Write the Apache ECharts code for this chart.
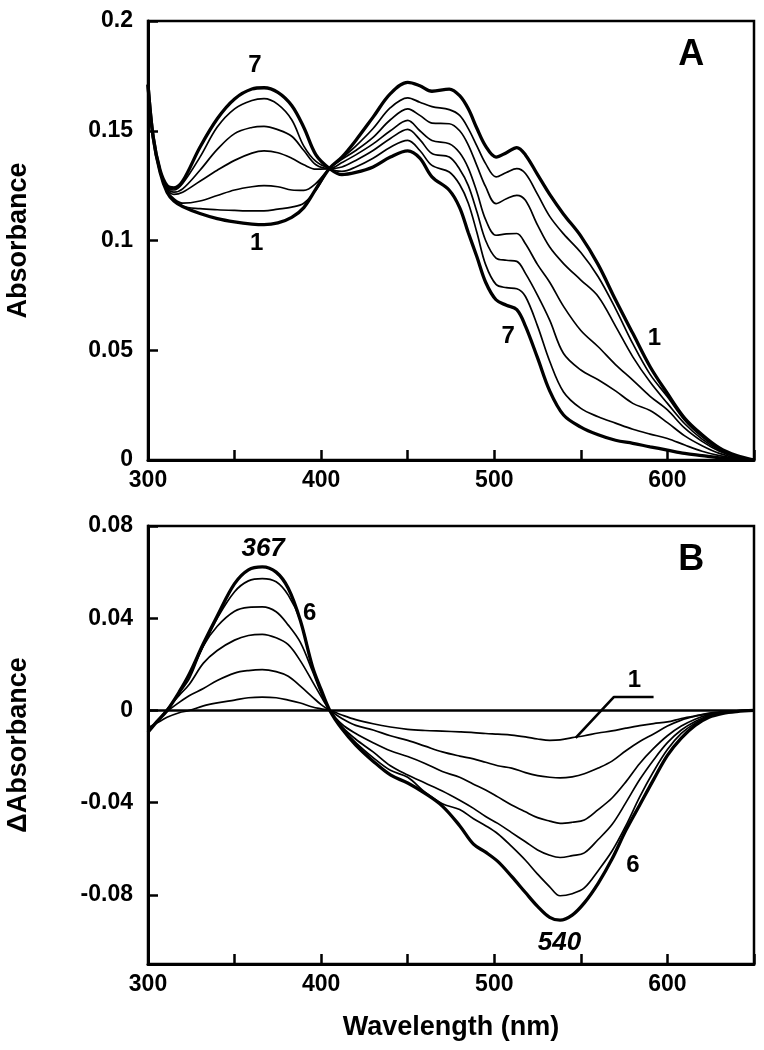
<!DOCTYPE html>
<html><head><meta charset="utf-8">
<script src="https://cdn.jsdelivr.net/npm/echarts@6.0.0/dist/echarts.min.js"></script>
<style>html,body{margin:0;padding:0;background:#fff}#c{width:764px;height:1050px}</style>
</head><body><div id="c"></div>
<script>
const FONT = '"Liberation Sans", Arial, Helvetica, sans-serif';

// ---- Panel A: absorbance spectra 1..7 ----
const wavelengthsA = [300,303,307,311,315,320,330,340,350,360,367,375,383,390,397,405,412,420,430,440,450,457,464,474,480,485,490,495,501,507,513,518,525,532,540,550,560,570,580,590,600,610,620,630,640,650];
const absA1 = [0.171,0.147,0.131,0.122,0.118,0.1155,0.1123,0.110,0.1085,0.1075,0.1072,0.108,0.1105,0.115,0.1235,0.133,0.138,0.1456,0.1562,0.1669,0.172,0.1705,0.168,0.169,0.166,0.160,0.151,0.143,0.138,0.140,0.1423,0.139,0.130,0.121,0.112,0.102,0.089,0.073,0.0577,0.0425,0.0303,0.019,0.0115,0.0055,0.002,0];
const absA2 = [0.171,0.147,0.131,0.122,0.118,0.1155,0.1145,0.114,0.1137,0.1135,0.1135,0.1143,0.1152,0.117,0.123,0.133,0.1375,0.143,0.151,0.1605,0.165,0.163,0.161,0.1596,0.157,0.151,0.143,0.135,0.129,0.131,0.1327,0.1305,0.121,0.111,0.103,0.0945,0.0835,0.069,0.053,0.039,0.0288,0.018,0.0105,0.005,0.0018,0];
const absA3 = [0.171,0.147,0.131,0.1225,0.119,0.117,0.118,0.1205,0.123,0.1245,0.125,0.1245,0.123,0.1228,0.126,0.133,0.137,0.141,0.147,0.155,0.160,0.157,0.1535,0.1532,0.150,0.1435,0.134,0.1245,0.1168,0.119,0.1206,0.1183,0.107,0.097,0.0895,0.082,0.0745,0.061,0.047,0.0355,0.0258,0.0165,0.0095,0.0045,0.0015,0];
const absA4 = [0.171,0.147,0.132,0.1235,0.121,0.122,0.127,0.132,0.1365,0.1398,0.1408,0.140,0.1375,0.1345,0.1325,0.1327,0.1355,0.139,0.144,0.150,0.1547,0.150,0.1456,0.1441,0.140,0.133,0.122,0.1095,0.1024,0.103,0.1032,0.0985,0.089,0.081,0.070,0.059,0.0516,0.0435,0.0364,0.029,0.0228,0.0145,0.0085,0.004,0.0013,0];
const absA5 = [0.171,0.147,0.132,0.124,0.122,0.1235,0.132,0.1415,0.1487,0.1515,0.152,0.1505,0.1475,0.141,0.1345,0.1327,0.1335,0.1365,0.141,0.1465,0.1506,0.146,0.1396,0.138,0.1325,0.125,0.113,0.100,0.092,0.091,0.0905,0.085,0.075,0.0637,0.0485,0.041,0.0366,0.0315,0.0258,0.0225,0.017,0.011,0.0065,0.003,0.001,0];
const absA6 = [0.171,0.147,0.132,0.1245,0.123,0.126,0.138,0.1517,0.160,0.1638,0.1646,0.162,0.155,0.143,0.136,0.1327,0.1315,0.1335,0.1375,0.1425,0.1456,0.141,0.1342,0.1312,0.1255,0.117,0.1035,0.089,0.080,0.0785,0.078,0.0745,0.061,0.045,0.031,0.0235,0.0197,0.0168,0.014,0.0118,0.0098,0.0068,0.004,0.002,0.0007,0];
const absA7 = [0.171,0.147,0.132,0.125,0.124,0.127,0.1425,0.1555,0.1645,0.169,0.1696,0.1675,0.1615,0.1515,0.139,0.1327,0.130,0.131,0.1335,0.138,0.1408,0.1375,0.129,0.1229,0.115,0.1035,0.0925,0.081,0.073,0.0705,0.0685,0.061,0.0465,0.0315,0.0205,0.015,0.0115,0.009,0.0076,0.006,0.0045,0.003,0.002,0.001,0.0004,0];

// ---- Panel B: difference spectra 1..6 ----
const wavelengthsB = [300,305,311,318,324,332,340,350,358,366,374,381,388,395,400,405,412,420,430,440,450,460,470,480,488,495,502,510,518,525,532,538,545,552,560,568,576,584,592,600,608,616,624,632,640,650];
const diffB1 = [-0.0075,-0.0055,-0.003,-0.001,0,0.002,0.0033,0.0045,0.0055,0.0058,0.0055,0.0045,0.0032,0.0015,0.0007,0,-0.002,-0.004,-0.0058,-0.0072,-0.0082,-0.0087,-0.009,-0.0093,-0.0096,-0.010,-0.0103,-0.0107,-0.0115,-0.0124,-0.013,-0.0128,-0.0118,-0.011,-0.0098,-0.0089,-0.0077,-0.0066,-0.0057,-0.005,-0.0035,-0.0024,-0.0015,-0.0008,-0.0003,0];
const diffB2 = [-0.0085,-0.005,-0.0005,0.0035,0.0065,0.0095,0.013,0.0162,0.0173,0.0177,0.0168,0.0148,0.0105,0.0058,0.0025,0,-0.0035,-0.0065,-0.0085,-0.011,-0.013,-0.0155,-0.018,-0.0198,-0.021,-0.0225,-0.024,-0.025,-0.027,-0.0283,-0.029,-0.0293,-0.0288,-0.0275,-0.025,-0.022,-0.0175,-0.0135,-0.0102,-0.0068,-0.0042,-0.0025,-0.0012,-0.0005,-0.0002,0];
const diffB3 = [-0.009,-0.005,0.0005,0.0065,0.0115,0.0205,0.026,0.0305,0.0325,0.033,0.0315,0.0285,0.0215,0.0125,0.006,0,-0.006,-0.010,-0.014,-0.0175,-0.020,-0.023,-0.0265,-0.029,-0.032,-0.0345,-0.0375,-0.041,-0.044,-0.0465,-0.048,-0.049,-0.0485,-0.0475,-0.043,-0.038,-0.031,-0.023,-0.0165,-0.011,-0.0068,-0.0038,-0.0018,-0.0007,-0.0002,0];
const diffB4 = [-0.0095,-0.005,0,0.0075,0.014,0.028,0.0365,0.043,0.0447,0.0449,0.0428,0.037,0.0295,0.017,0.0075,0,-0.007,-0.0125,-0.018,-0.024,-0.028,-0.0315,-0.035,-0.039,-0.0425,-0.046,-0.049,-0.053,-0.057,-0.0605,-0.0628,-0.0638,-0.063,-0.0618,-0.056,-0.0495,-0.040,-0.030,-0.0215,-0.014,-0.0085,-0.0048,-0.0022,-0.0009,-0.0003,0];
const diffB5 = [-0.0095,-0.005,0,0.008,0.0158,0.028,0.040,0.0515,0.0562,0.0572,0.0558,0.050,0.039,0.019,0.008,0,-0.0075,-0.014,-0.0205,-0.026,-0.029,-0.0355,-0.0405,-0.043,-0.047,-0.050,-0.0535,-0.059,-0.065,-0.071,-0.0765,-0.0804,-0.0795,-0.077,-0.0695,-0.061,-0.050,-0.0375,-0.0265,-0.017,-0.010,-0.0055,-0.0025,-0.001,-0.0004,0];
const diffB6 = [-0.0095,-0.005,0,0.008,0.016,0.029,0.041,0.055,0.061,0.0623,0.060,0.053,0.039,0.019,0.009,0,-0.008,-0.015,-0.022,-0.028,-0.0315,-0.036,-0.0415,-0.050,-0.058,-0.0615,-0.0655,-0.072,-0.079,-0.085,-0.0898,-0.091,-0.0888,-0.0835,-0.075,-0.0645,-0.052,-0.041,-0.030,-0.0195,-0.012,-0.0065,-0.003,-0.0013,-0.0005,0];

// leader line for label "1" in panel B
const leaderX = [547, 569, 592];
const leaderY = [-0.0119, 0.0058, 0.0058];

// tick labels
const xLabelValues = [300, 400, 500, 600];
const yTickValuesB = [-0.08, -0.04, 0, 0.04, 0.08];

// annotations [text, wavelength, value, size, italic]
const labelsA = [['7', 361.7, 0.1797, 24, false], ['1', 362.7, 0.0987, 24, false], ['A', 613.7, 0.1843, 36, false], ['7', 508, 0.0561, 24, false], ['1', 592.5, 0.0554, 24, false]];
const labelsB = [['367', 366.5, 0.0703, 26, true], ['6', 393.4, 0.042, 24, false], ['B', 613.7, 0.0652, 36, false], ['1', 581, 0.013, 24, false], ['6', 580, -0.0674, 24, false], ['540', 537.7, -0.1007, 26, true]];

const pairs = (xs, ys) => xs.map((x, i) => [x, ys[i]]);
const txt = {color: '#000', fontFamily: FONT, fontWeight: 'bold'};

function curve(xs, ys, thick, gi, extra) {
  return Object.assign({
    type: 'line', xAxisIndex: gi, yAxisIndex: gi, data: pairs(xs, ys),
    showSymbol: false, symbol: 'none', smooth: 0.35, silent: true, animation: false,
    lineStyle: {color: '#000', width: thick ? 3.3 : 1.7, opacity: 1}, z: thick ? 4 : 3
  }, extra || {});
}
function labelSeries(list, gi) {
  return {
    type: 'scatter', xAxisIndex: gi, yAxisIndex: gi, symbolSize: 1, silent: true, animation: false, z: 10,
    itemStyle: {color: 'rgba(0,0,0,0)', opacity: 1},
    data: list.map(l => ({
      value: [l[1], l[2]],
      label: {show: true, position: 'inside', formatter: l[0], fontSize: l[3], fontStyle: l[4] ? 'italic' : 'normal',
        color: '#000', opacity: 1, textBorderWidth: 0, fontFamily: FONT, fontWeight: 'bold', align: 'center', verticalAlign: 'middle'}
    }))
  };
}

const gridCommon = {show: true, borderColor: '#000', borderWidth: 2.5, left: 148, width: 606, containLabel: false, outerBoundsMode: 'none'};

function xAxis(gi) {
  return {
    type: 'value', gridIndex: gi, min: 300, max: 650, interval: 50,
    axisLine: {show: true, onZero: false, lineStyle: {color: '#000', width: 3}},
    axisTick: {show: true, inside: true, length: 10, lineStyle: {color: '#000', width: 2.5}},
    axisLabel: Object.assign({fontSize: 23, margin: 9, formatter: v => xLabelValues.includes(v) ? String(v) : ''}, txt),
    splitLine: {show: false},
    name: gi === 1 ? 'Wavelength (nm)' : '', nameLocation: 'middle', nameGap: 50,
    nameTextStyle: Object.assign({fontSize: 27}, txt)
  };
}

const option = {
  backgroundColor: '#fff',
  animation: false,
  grid: [
    Object.assign({top: 21, height: 439}, gridCommon),
    Object.assign({top: 526, height: 438}, gridCommon)
  ],
  xAxis: [xAxis(0), xAxis(1)],
  yAxis: [
    {
      type: 'value', gridIndex: 0, min: 0, max: 0.2, interval: 0.05,
      axisLine: {show: true, onZero: false, lineStyle: {color: '#000', width: 3}},
      axisTick: {show: true, inside: true, length: 10, lineStyle: {color: '#000', width: 2.5}},
      axisLabel: Object.assign({fontSize: 23, margin: 15}, txt),
      splitLine: {show: false},
      name: 'Absorbance', nameLocation: 'middle', nameRotate: 90, nameGap: 116,
      nameTextStyle: Object.assign({fontSize: 27}, txt)
    },
    {
      type: 'value', gridIndex: 1, min: -0.11, max: 0.08,
      axisLine: {show: true, onZero: false, lineStyle: {color: '#000', width: 3}},
      axisTick: {show: true, inside: true, length: 10, lineStyle: {color: '#000', width: 2.5}, customValues: yTickValuesB},
      axisLabel: Object.assign({fontSize: 23, margin: 15, customValues: yTickValuesB,
        formatter: v => Math.abs(v) < 1e-9 ? '0' : v.toFixed(2)}, txt),
      splitLine: {show: false},
      name: '\u0394Absorbance', nameLocation: 'middle', nameRotate: 90, nameGap: 116,
      nameTextStyle: Object.assign({fontSize: 27}, txt)
    }
  ],
  series: [
    curve(wavelengthsA, absA1, true, 0),
    curve(wavelengthsA, absA2, false, 0),
    curve(wavelengthsA, absA3, false, 0),
    curve(wavelengthsA, absA4, false, 0),
    curve(wavelengthsA, absA5, false, 0),
    curve(wavelengthsA, absA6, false, 0),
    curve(wavelengthsA, absA7, true, 0),
    curve(wavelengthsB, diffB1, false, 1, {
      markLine: {silent: true, symbol: 'none', label: {show: false}, animation: false,
        lineStyle: {color: '#000', type: 'solid', width: 2.6, opacity: 1}, data: [{yAxis: 0}]}
    }),
    curve(wavelengthsB, diffB2, false, 1),
    curve(wavelengthsB, diffB3, false, 1),
    curve(wavelengthsB, diffB4, false, 1),
    curve(wavelengthsB, diffB5, false, 1),
    curve(wavelengthsB, diffB6, true, 1),
    curve(leaderX, leaderY, false, 1, {smooth: false, lineStyle: {color: '#000', width: 2.6}}),
    labelSeries(labelsA, 0),
    labelSeries(labelsB, 1)
  ]
};
const chart = echarts.init(document.getElementById('c'), null, {renderer: 'canvas'});
chart.setOption(option);
</script>
</body></html>
